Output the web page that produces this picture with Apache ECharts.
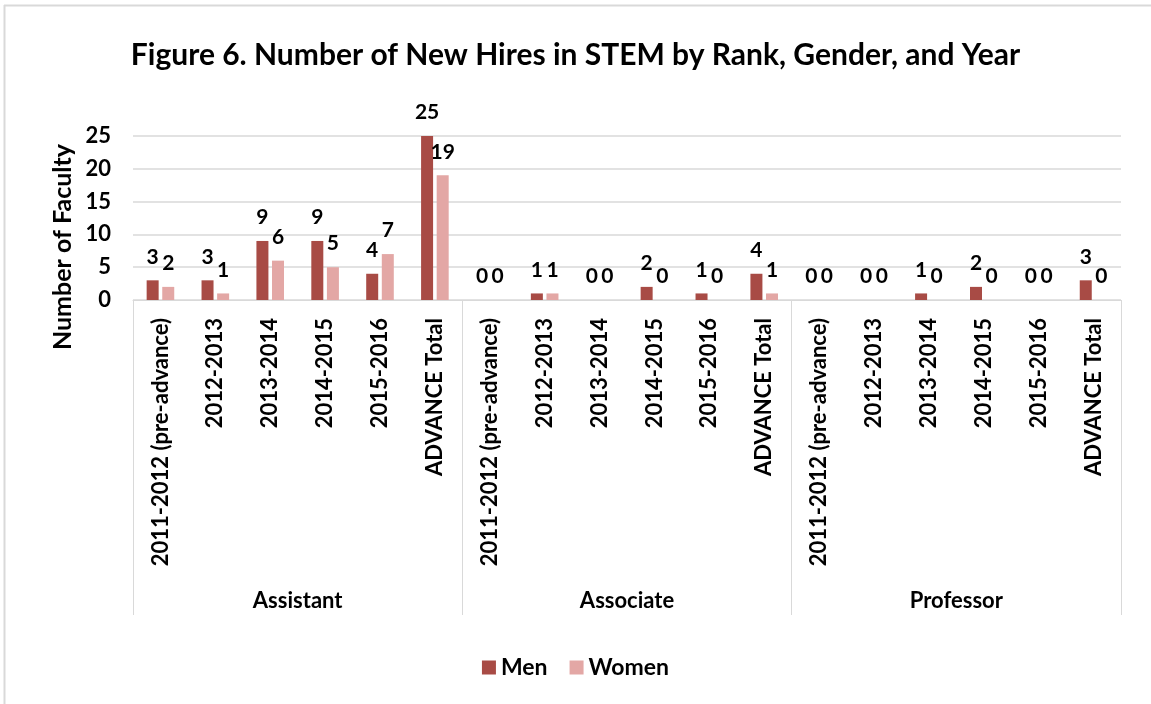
<!DOCTYPE html>
<html>
<head>
<meta charset="utf-8">
<script src="https://cdn.jsdelivr.net/npm/echarts@6/dist/echarts.min.js"></script>
<style>
  html, body { margin: 0; padding: 0; background: #fff; }
  #main { width: 1151px; height: 704px; }
</style>
</head>
<body>
<div id="main"></div>
<script>
// 数据
const ranks = ['Assistant', 'Associate', 'Professor'];
const years = ['2011-2012 (pre-advance)', '2012-2013', '2013-2014', '2014-2015', '2015-2016', 'ADVANCE Total'];
const menValues = [3, 3, 9, 9, 4, 25, 0, 1, 0, 2, 1, 4, 0, 0, 1, 2, 0, 3];
const womenValues = [2, 1, 6, 5, 7, 19, 0, 1, 0, 0, 0, 1, 0, 0, 0, 0, 0, 0];
const yTicks = [0, 5, 10, 15, 20, 25];

// 每个职级下重复年份
const categories = [];
ranks.forEach(() => years.forEach(y => categories.push(y)));

const font = 'Lato, "Open Sans", sans-serif';
const gridLine = '#d9d9d9';

const myChart = echarts.init(document.getElementById('main'));

const labelStyle = {
  show: true,
  position: 'top',
  distance: 13,
  fontFamily: font,
  fontWeight: 'bold',
  fontSize: 21,
  color: '#000',
};

const option = {
  animation: false,
  backgroundColor: '#fff',
  title: {
    text: 'Figure 6. Number of New Hires in STEM by Rank, Gender, and Year',
    left: 'center',
    top: 35,
    textStyle: { fontFamily: font, fontWeight: 'bold', fontSize: 30, color: '#000' },
  },
  legend: {
    bottom: 20,
    left: 'center',
    itemWidth: 14,
    itemHeight: 14,
    itemGap: 22,
    icon: 'rect',
    textStyle: { fontFamily: font, fontWeight: 'bold', fontSize: 23, color: '#000' },
    data: ['Men', 'Women'],
  },
  grid: { left: 133, right: 30, top: 136, bottom: 404 },
  xAxis: [
    {
      type: 'category',
      data: categories,
      axisLine: { show: true, lineStyle: { color: gridLine } },
      axisTick: { show: false },
      axisLabel: {
        interval: 0,
        rotate: 90,
        margin: 18,
        fontFamily: font,
        fontWeight: 'bold',
        fontSize: 22,
        color: '#000',
      },
    },
    {
      type: 'category',
      position: 'bottom',
      data: ranks,
      axisLine: { show: false },
      axisTick: { show: true, length: 315, interval: 0, lineStyle: { color: gridLine } },
      axisLabel: {
        margin: 290,
        fontFamily: font,
        fontWeight: 'bold',
        fontSize: 22,
        color: '#000',
      },
    },
  ],
  yAxis: {
    type: 'value',
    min: yTicks[0],
    max: yTicks[yTicks.length - 1],
    interval: 5,
    axisLine: { show: false },
    axisTick: { show: false },
    splitLine: { lineStyle: { color: gridLine, width: 1.5 } },
    axisLabel: {
      margin: 22,
      fontFamily: font,
      fontWeight: 'bold',
      fontSize: 22,
      color: '#000',
    },
  },
  graphic: [
    {
      type: 'text',
      x: 63,
      y: 247,
      rotation: Math.PI / 2,
      style: {
        text: 'Number of Faculty',
        fontFamily: font,
        fontWeight: 'bold',
        fontSize: 25,
        fill: '#000',
        textAlign: 'center',
        textVerticalAlign: 'middle',
      },
    },
    { type: 'line', shape: { x1: 4.5, y1: 5, x2: 4.5, y2: 704 }, style: { stroke: '#d9d9d9', lineWidth: 2 } },
    { type: 'line', shape: { x1: 4, y1: 5.5, x2: 1151, y2: 5.5 }, style: { stroke: '#d9d9d9', lineWidth: 2 } },
  ],
  series: [
    {
      name: 'Men',
      type: 'bar',
      data: menValues,
      barWidth: 12,
      barGap: '30%',
      itemStyle: { color: '#a84b45' },
      label: labelStyle,
    },
    {
      name: 'Women',
      type: 'bar',
      data: womenValues,
      barWidth: 12,
      itemStyle: { color: '#e3a7a5' },
      label: labelStyle,
    },
  ],
};

myChart.setOption(option);
</script>
</body>
</html>
